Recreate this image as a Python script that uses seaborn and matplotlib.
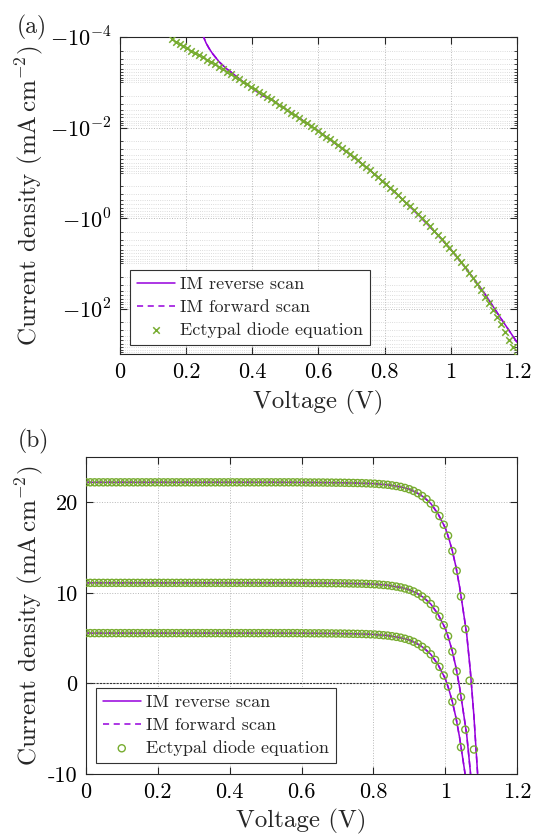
import numpy as np
import pandas as pd
import matplotlib
matplotlib.use("Agg")
import matplotlib.pyplot as plt
import seaborn as sns
from matplotlib.ticker import FixedLocator, FuncFormatter, LogLocator, NullFormatter

# ---------------- data ----------------
# voltage sampling grid of the ectypal-diode markers (V)
voltage_grid = [
    0.000, 0.012, 0.024, 0.036, 0.048, 0.060, 0.072, 0.084, 0.096, 0.108,
    0.120, 0.132, 0.144, 0.156, 0.168, 0.180, 0.192, 0.204, 0.216, 0.228,
    0.240, 0.252, 0.264, 0.276, 0.288, 0.300, 0.312, 0.324, 0.336, 0.348,
    0.360, 0.372, 0.384, 0.396, 0.408, 0.420, 0.432, 0.444, 0.456, 0.468,
    0.480, 0.492, 0.504, 0.516, 0.528, 0.540, 0.552, 0.564, 0.576, 0.588,
    0.600, 0.612, 0.624, 0.636, 0.648, 0.660, 0.672, 0.684, 0.696, 0.708,
    0.720, 0.732, 0.744, 0.756, 0.768, 0.780, 0.792, 0.804, 0.816, 0.828,
    0.840, 0.852, 0.864, 0.876, 0.888, 0.900, 0.912, 0.924, 0.936, 0.948,
    0.960, 0.972, 0.984, 0.996, 1.008, 1.020, 1.032, 1.044, 1.056, 1.068,
    1.080, 1.092, 1.104, 1.116, 1.128, 1.140, 1.152, 1.164, 1.176, 1.188,
    1.200,
]

# (a) dark J-V, ectypal diode equation markers (mA cm^-2), from V = 0.156 V
dark_diode_j = [
    -1.12e-4, -1.26e-4, -1.42e-4, -1.59e-4, -1.79e-4, -2.00e-4, -2.25e-4, -2.53e-4,
    -2.84e-4, -3.19e-4, -3.58e-4, -4.03e-4, -4.52e-4, -5.13e-4, -5.83e-4, -6.62e-4,
    -7.52e-4, -8.53e-4, -9.68e-4, -1.10e-3, -1.25e-3, -1.42e-3, -1.61e-3, -1.83e-3, -2.07e-3,
    -2.37e-3, -2.71e-3, -3.10e-3, -3.56e-3, -4.06e-3, -4.66e-3, -5.33e-3, -6.11e-3,
    -7.00e-3, -8.02e-3, -9.16e-3, -1.05e-2, -1.20e-2,
    -1.38e-2, -1.58e-2, -1.83e-2, -2.11e-2, -2.45e-2, -2.84e-2, -3.31e-2, -3.87e-2,
    -4.54e-2, -5.32e-2, -6.28e-2, -7.41e-2, -8.77e-2, -0.104, -0.124, -0.148,
    -0.177, -0.213, -0.256, -0.309, -0.374, -0.454, -0.552, -0.673, -0.824,
    -1.01, -1.24, -1.53, -1.89, -2.35, -2.92, -3.64, -4.54,
    -5.71, -7.28, -9.38, -12.2, -16.1, -21.5, -29.0, -39.5, -54.6,
    -76.2, -108.0, -154.0, -222.0, -325.0, -481.0, -719.0, -1089.0,
]
dark_start_index = 13  # first marker at 0.156 V

# (a) dark J-V, IM scans
dark_scan_v = [0.250, 0.260, 0.270, 0.280, 0.300, 0.320, 0.340, 0.360, 0.380,
               0.400, 0.430, 0.460, 0.500, 0.550, 0.600, 0.650, 0.700, 0.750,
               0.800, 0.850, 0.900, 0.950, 1.000, 1.050, 1.100, 1.150, 1.200]
dark_reverse_j = [-8.91e-5, -1.35e-4, -1.82e-4, -2.34e-4, -3.55e-4, -4.90e-4,
                  -6.31e-4, -8.32e-4, -1.07e-3, -1.35e-3, -1.95e-3, -2.45e-3,
                  -3.89e-3, -6.76e-3, -1.20e-2, -2.24e-2, -4.17e-2, -8.05e-2,
                  -0.167, -0.363, -0.824, -1.95, -4.90, -14.1, -43.7, -158.0, -550.0]
dark_forward_j = list(dark_reverse_j)

# (b) light J-V, ectypal diode equation markers (three light intensities)
light_diode_high = [
    22.20, 22.20, 22.20, 22.20, 22.20, 22.20, 22.20, 22.20, 22.20, 22.20,
    22.20, 22.20, 22.20, 22.20, 22.20, 22.20, 22.20, 22.20, 22.20, 22.20,
    22.20, 22.20, 22.20, 22.20, 22.20, 22.20, 22.20, 22.20, 22.20, 22.20,
    22.20, 22.20, 22.20, 22.20, 22.20, 22.20, 22.20, 22.20, 22.20, 22.20,
    22.20, 22.20, 22.20, 22.20, 22.20, 22.20, 22.20, 22.20, 22.20, 22.20,
    22.19, 22.19, 22.18, 22.18, 22.18, 22.18, 22.17, 22.17, 22.16, 22.16,
    22.15, 22.14, 22.13, 22.12, 22.11, 22.09, 22.07, 22.05, 22.01, 21.97,
    21.93, 21.86, 21.79, 21.70, 21.58, 21.44, 21.25, 21.00, 20.69, 20.34,
    19.86, 19.25, 18.48, 17.52, 16.31, 14.61, 12.43, 9.60, 6.00, 0.30,
    -7.30, -17.6,
]
light_diode_mid = [
    11.10, 11.10, 11.10, 11.10, 11.10, 11.10, 11.10, 11.10, 11.10, 11.10,
    11.10, 11.10, 11.10, 11.10, 11.10, 11.10, 11.10, 11.10, 11.10, 11.10,
    11.10, 11.10, 11.10, 11.10, 11.10, 11.10, 11.10, 11.10, 11.10, 11.10,
    11.10, 11.10, 11.10, 11.10, 11.10, 11.10, 11.10, 11.10, 11.10, 11.10,
    11.10, 11.10, 11.10, 11.10, 11.10, 11.10, 11.10, 11.10, 11.10, 11.10,
    11.09, 11.09, 11.08, 11.08, 11.08, 11.08, 11.07, 11.07, 11.06, 11.06,
    11.05, 11.04, 11.03, 11.02, 11.01, 10.99, 10.97, 10.95, 10.91, 10.87,
    10.83, 10.76, 10.69, 10.60, 10.48, 10.34, 10.15, 9.90, 9.59, 9.24,
    8.76, 8.15, 7.38, 6.42, 5.21, 3.51, 1.33, -1.50, -5.10, -10.8,
]
light_diode_low = [
    5.55, 5.55, 5.55, 5.55, 5.55, 5.55, 5.55, 5.55, 5.55, 5.55,
    5.55, 5.55, 5.55, 5.55, 5.55, 5.55, 5.55, 5.55, 5.55, 5.55,
    5.55, 5.55, 5.55, 5.55, 5.55, 5.55, 5.55, 5.55, 5.55, 5.55,
    5.55, 5.55, 5.55, 5.55, 5.55, 5.55, 5.55, 5.55, 5.55, 5.55,
    5.55, 5.55, 5.55, 5.55, 5.55, 5.55, 5.55, 5.55, 5.55, 5.55,
    5.54, 5.54, 5.53, 5.53, 5.53, 5.53, 5.52, 5.52, 5.51, 5.51,
    5.50, 5.49, 5.48, 5.47, 5.46, 5.44, 5.42, 5.40, 5.36, 5.32,
    5.28, 5.21, 5.14, 5.05, 4.93, 4.79, 4.60, 4.35, 4.04, 3.69,
    3.21, 2.60, 1.83, 0.87, -0.34, -2.04, -4.22, -7.05, -10.65,
]

# (b) light J-V, IM scans
light_scan_v = [0.00, 0.10, 0.20, 0.30, 0.40, 0.50, 0.60, 0.70, 0.75, 0.80,
                0.84, 0.88, 0.90, 0.92, 0.94, 0.96, 0.98, 1.00, 1.01, 1.02,
                1.03, 1.04, 1.05, 1.06, 1.07, 1.08, 1.09, 1.10]
light_reverse_high = [22.2, 22.2, 22.2, 22.2, 22.2, 22.2, 22.19, 22.16, 22.12, 22.06,
                      21.93, 21.66, 21.44, 21.08, 20.58, 19.86, 18.73, 17.19, 16.03, 14.61,
                      12.87, 10.70, 8.10, 5.40, 1.40, -3.60, -9.80, -17.8]
light_reverse_mid = [11.1, 11.1, 11.1, 11.1, 11.1, 11.1, 11.09, 11.06, 11.02, 10.96,
                     10.83, 10.56, 10.34, 9.98, 9.48, 8.76, 7.63, 6.09, 4.93, 3.51,
                     1.77, -0.40, -3.00, -5.70, -9.70, -14.7]
light_reverse_low = [5.55, 5.55, 5.55, 5.55, 5.55, 5.55, 5.54, 5.51, 5.47, 5.41,
                     5.28, 5.01, 4.79, 4.43, 3.93, 3.21, 2.08, 0.54, -0.62, -2.04,
                     -3.78, -5.95, -8.55, -11.25]
light_forward_high = list(light_reverse_high)
light_forward_mid = list(light_reverse_mid)
light_forward_low = list(light_reverse_low)

labels = ["IM reverse scan", "IM forward scan", "Ectypal diode equation"]
x_ticks = [0, 0.2, 0.4, 0.6, 0.8, 1.0, 1.2]
dark_major = [1e-4, 1e-2, 1e0, 1e2]
light_y_ticks = [-10, 0, 10, 20]

# ---------------- style ----------------
PURPLE = "#9600DC"
GREEN = "#77AC30"
AXC = "0.15"

sns.set_style("ticks")
plt.rcParams.update({
    "font.family": ["cmr10", "DejaVu Serif"],
    "mathtext.fontset": "cm",
    "axes.unicode_minus": False,
    "axes.formatter.use_mathtext": True,
    "axes.edgecolor": AXC,
    "axes.linewidth": 0.8,
    "xtick.color": AXC,
    "ytick.color": AXC,
    "xtick.labelcolor": "black",
    "ytick.labelcolor": "black",
})

fig = plt.figure(figsize=(5.38, 8.40), dpi=100)
ax1 = fig.add_axes([0.2230, 0.5786, 0.7379, 0.3774])
ax2 = fig.add_axes([0.1599, 0.0786, 0.8011, 0.3774])

TICK_FS = 16
LABEL_FS = 18
LEG_FS = 13
dash = (0, (4, 3))

# ---------------- (a) dark ----------------
dark_v = voltage_grid[dark_start_index:dark_start_index + len(dark_diode_j)]
df_dark_m = pd.DataFrame({"V": dark_v, "J": np.abs(dark_diode_j)})
df_dark_r = pd.DataFrame({"V": dark_scan_v, "J": np.abs(dark_reverse_j)})
df_dark_f = pd.DataFrame({"V": dark_scan_v, "J": np.abs(dark_forward_j)})

sns.lineplot(data=df_dark_r, x="V", y="J", ax=ax1, color=PURPLE, lw=1.1,
             estimator=None, sort=False, zorder=3)
h_rev = ax1.lines[-1]
sns.lineplot(data=df_dark_f, x="V", y="J", ax=ax1, color=PURPLE, lw=1.1,
             estimator=None, sort=False, zorder=3.1)
h_fwd = ax1.lines[-1]
h_fwd.set_linestyle(dash)
sns.scatterplot(data=df_dark_m, x="V", y="J", ax=ax1, marker="x", color=GREEN,
                s=22, linewidth=1.1, zorder=4)
h_mk_a = ax1.collections[-1]

ax1.set_yscale("log")
ax1.set_xlim(0, 1.2)
ax1.set_ylim(1e3, 1e-4)
ax1.xaxis.set_major_locator(FixedLocator(x_ticks))
ax1.xaxis.set_major_formatter(FuncFormatter(lambda v, p: "%g" % round(v, 1)))
ax1.yaxis.set_major_locator(FixedLocator(dark_major))
ax1.yaxis.set_major_formatter(FuncFormatter(
    lambda v, p: r"$-10^{%d}$" % int(round(np.log10(v)))))
ax1.yaxis.set_minor_locator(LogLocator(base=10, subs=np.arange(1, 10), numticks=60))
ax1.yaxis.set_minor_formatter(NullFormatter())
ax1.grid(True, which="major", ls=":", color="0.72", lw=0.7)
ax1.yaxis.grid(True, which="minor", ls=":", color="0.82", lw=0.6)
ax1.set_xlabel("Voltage (V)", fontsize=LABEL_FS, labelpad=6)
ax1.set_ylabel(r"Current density (mA$\,$cm$^{-2}$)", fontsize=LABEL_FS)
ax1.yaxis.set_label_coords(-0.19, 0.5)

# ---------------- (b) light ----------------
curves = [
    (light_reverse_high, light_forward_high, light_diode_high),
    (light_reverse_mid, light_forward_mid, light_diode_mid),
    (light_reverse_low, light_forward_low, light_diode_low),
]
ax2.axhline(0, color="0.2", lw=0.8, ls=(0, (2, 1)), zorder=1.5)
handles_b = None
for rev, fwd, mk in curves:
    d_r = pd.DataFrame({"V": light_scan_v[:len(rev)], "J": rev})
    d_f = pd.DataFrame({"V": light_scan_v[:len(fwd)], "J": fwd})
    d_m = pd.DataFrame({"V": voltage_grid[:len(mk)], "J": mk})
    sns.lineplot(data=d_r, x="V", y="J", ax=ax2, color=PURPLE, lw=1.1,
                 estimator=None, sort=False, zorder=3)
    hr = ax2.lines[-1]
    sns.lineplot(data=d_f, x="V", y="J", ax=ax2, color=PURPLE, lw=1.1,
                 estimator=None, sort=False, zorder=3.1)
    hf = ax2.lines[-1]
    hf.set_linestyle(dash)
    sns.scatterplot(data=d_m, x="V", y="J", ax=ax2, marker="o", color=GREEN,
                    s=26, linewidth=1.0, zorder=4)
    hm = ax2.collections[-1]
    hm.set_facecolor("none")
    hm.set_edgecolor(GREEN)
    if handles_b is None:
        handles_b = [hr, hf, hm]

ax2.set_xlim(0, 1.2)
ax2.set_ylim(-10, 25)
ax2.xaxis.set_major_locator(FixedLocator(x_ticks))
ax2.xaxis.set_major_formatter(FuncFormatter(lambda v, p: "%g" % round(v, 1)))
ax2.yaxis.set_major_locator(FixedLocator(light_y_ticks))
ax2.yaxis.set_major_formatter(FuncFormatter(lambda v, p: "%d" % round(v)))
ax2.grid(True, which="major", ls=":", color="0.72", lw=0.7)
ax2.set_xlabel("Voltage (V)", fontsize=LABEL_FS, labelpad=5)
ax2.set_ylabel(r"Current density (mA$\,$cm$^{-2}$)", fontsize=LABEL_FS)
ax2.yaxis.set_label_coords(-0.095, 0.5)

for ax in (ax1, ax2):
    ax.tick_params(which="major", direction="in", length=5, width=0.8,
                   top=True, right=True, labelsize=TICK_FS, pad=6)
    ax.tick_params(which="minor", direction="in", length=2.5, width=0.6,
                   top=True, right=True)
    ax.set_axisbelow(True)
    for s in ax.spines.values():
        s.set_visible(True)
        s.set_color(AXC)
        s.set_linewidth(0.8)

leg_kw = dict(loc="lower left", frameon=True, fancybox=False, edgecolor="0.2",
              framealpha=1, fontsize=LEG_FS, handlelength=2.1, handletextpad=0.3,
              labelspacing=0.4, borderpad=0.38, borderaxespad=0, scatterpoints=1)
leg1 = ax1.legend([h_rev, h_fwd, h_mk_a], labels, bbox_to_anchor=(0.025, 0.028), **leg_kw)
leg2 = ax2.legend(handles_b, labels, bbox_to_anchor=(0.023, 0.035), **leg_kw)
for lg in (leg1, leg2):
    lg.get_frame().set_linewidth(0.8)

fig.text(0.060, 0.967, "(a)", ha="center", va="center", fontsize=17)
fig.text(0.062, 0.4744, "(b)", ha="center", va="center", fontsize=17)

fig.savefig("out.png", dpi=100)
